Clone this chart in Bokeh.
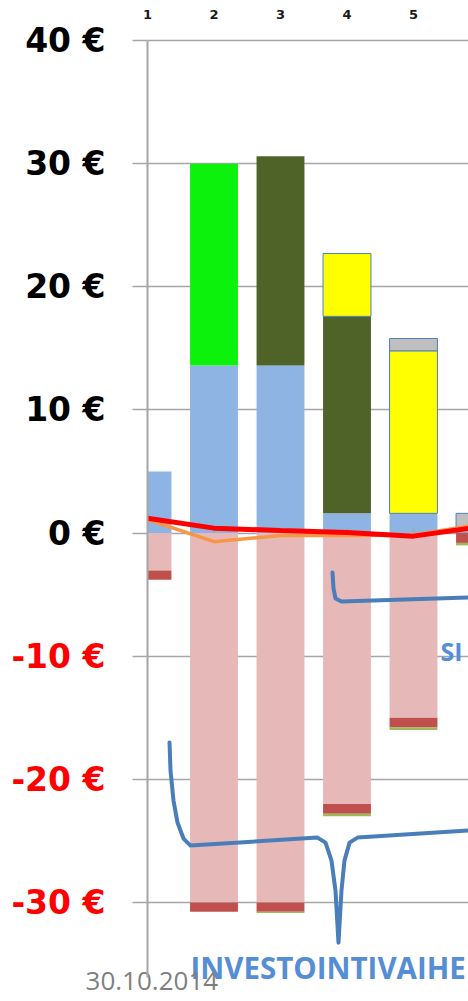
from bokeh.plotting import figure
from bokeh.models import Range1d, FixedTicker, Label, LabelSet, ColumnDataSource, Grid
from bokeh.core.properties import value
from bokeh.embed import file_html
from bokeh.resources import INLINE

# ---- data ----
categories = [1, 2, 3, 4, 5, 6]
top_tick_values = [1, 2, 3, 4, 5]
top_tick_labels = ["1", "2", "3", "4", "5"]

base_blue = [5.0, 13.6, 13.6, 1.6, 1.6, 0.0]
green = [0.0, 16.4, 0.0, 0.0, 0.0, 0.0]
olive = [0.0, 0.0, 17.0, 16.0, 0.0, 0.0]
yellow = [0.0, 0.0, 0.0, 5.1, 13.2, 0.0]
grey = [0.0, 0.0, 0.0, 0.0, 1.0, 1.6]

pink = [-3.05, -30.0, -30.0, -22.0, -15.0, 0.0]
darkred = [-0.75, -0.75, -0.75, -0.8, -0.8, -0.8]
lightgreen = [0.0, 0.0, -0.1, -0.2, -0.2, -0.2]

red_line = [1.2, 0.4, 0.2, 0.05, -0.25, 0.5]
orange_line = [1.1, -0.7, -0.2, -0.2, -0.15, 0.7]

y_ticks = [-30, -20, -10, 0, 10, 20, 30, 40]
y_tick_labels = ["-30 €", "-20 €", "-10 €", "0 €", "10 €", "20 €", "30 €", "40 €"]

# annotation brace paths (data units)
brace1_x = [3.782, 3.797, 3.827, 3.917, 5.827]
brace1_y = [-3.20, -4.50, -5.31, -5.56, -5.24]
brace2_x = [1.331, 1.346, 1.391, 1.451, 1.541, 1.647, 3.556, 3.677, 3.767, 3.827, 3.872,
            3.917, 3.962, 4.038, 4.158, 5.827]
brace2_y = [-17.01, -19.28, -21.72, -23.51, -24.81, -25.38, -24.73, -25.14, -26.60, -29.04,
            -33.26, -29.04, -26.60, -25.14, -24.73, -24.16]

# ---- layout (frame = whole canvas) ----
W, H = 468, 1001
axis_px = 147.0          # pixel position of category 1 / y axis
top_px = 40.0            # pixel position of the 40 € line
px_x = 66.5              # pixels per category
px_y = 12.314            # pixels per euro
x_start = 1 - axis_px / px_x
x_end = 1 + (W - axis_px) / px_x
y_end = 40 + top_px / px_y
y_start = 40 - (H - top_px) / px_y

p = figure(width=W, height=H, output_backend="svg", toolbar_location=None,
           x_range=Range1d(x_start, x_end), y_range=Range1d(y_start, y_end),
           min_border=0, x_axis_location=None, y_axis_location=None)
p.outline_line_color = None
p.background_fill_color = "white"
p.border_fill_color = "white"
p.xgrid.visible = False
p.ygrid.visible = False

GRID = "#A6A6A6"
tick_len = 15 / px_x
label_gap = 42 / px_x
axis_bottom = y_start + 24 / px_y

# horizontal gridlines behind the bars
p.add_layout(Grid(dimension=1, ticker=FixedTicker(ticks=y_ticks), cross_bounds=(1, x_end),
                  grid_line_color=GRID, grid_line_width=1.5))

# bars
def present(vals):
    return [1 if v != 0 else 0 for v in vals]

src = ColumnDataSource(dict(x=categories, blue=base_blue, green=green, olive=olive,
                            yellow=yellow, grey=grey, pink=pink, darkred=darkred,
                            lightgreen=lightgreen, ya=present(yellow), ga=present(grey)))
BW = 0.72
pos_cols = ["#8DB4E2", "#0CF20C", "#4F6228", "#FFFF00", "#BFBFBF"]
p.vbar_stack(["blue", "green", "olive", "yellow", "grey"], x="x", width=BW, source=src,
             fill_color=pos_cols, line_color="#4F81BD", line_width=1,
             line_alpha=[0, 0, 0, "ya", "ga"])
neg_cols = ["#E6B9B8", "#C0504D", "#9BBB59"]
p.vbar_stack(["pink", "darkred", "lightgreen"], x="x", width=BW, source=src,
             fill_color=neg_cols, line_color=None)

# white area left of the y axis (hides the left half of the first bar)
p.quad(left=[x_start], right=[1], bottom=[y_start], top=[y_end],
       fill_color="white", line_color=None)

# small ticks on the zero line
p.segment(x0=categories[1:], y0=[0] * 5, x1=categories[1:], y1=[5 / px_y] * 5,
          line_color=GRID, line_width=1.5)

# lines
p.line(categories, orange_line, line_color="#F79646", line_width=3.5)
p.line(categories, red_line, line_color="#FF0000", line_width=5)

# braces
BRACE = "#4A7EBB"
p.line(brace1_x, brace1_y, line_color=BRACE, line_width=4, line_cap="round", line_join="round")
p.line(brace2_x, brace2_y, line_color=BRACE, line_width=4, line_cap="round", line_join="round")

# y axis line and tick marks
p.add_layout(Grid(dimension=0, ticker=FixedTicker(ticks=[1]), cross_bounds=(axis_bottom, 40),
                  grid_line_color=GRID, grid_line_width=2, level="overlay"))
p.add_layout(Grid(dimension=1, ticker=FixedTicker(ticks=y_ticks), cross_bounds=(1 - tick_len, 1),
                  grid_line_color=GRID, grid_line_width=1.5, level="overlay"))

# y tick labels (black positive, red negative)
ysrc = ColumnDataSource(dict(y=y_ticks, text=y_tick_labels,
                             x=[1 - label_gap] * len(y_ticks),
                             color=["#FF0000" if t < 0 else "#000000" for t in y_ticks]))
p.add_layout(LabelSet(x="x", y="y", text="text", source=ysrc, text_color="color",
                      text_align="right", text_baseline="middle",
                      text_font=value("DejaVu Sans"), text_font_style="bold",
                      text_font_size="33px"))

# category numbers on top
xsrc = ColumnDataSource(dict(x=top_tick_values, text=top_tick_labels,
                             y=[40 + 26 / px_y] * len(top_tick_values)))
p.add_layout(LabelSet(x="x", y="y", text="text", source=xsrc, text_color="#1A1A1A",
                      text_align="center", text_baseline="middle",
                      text_font=value("DejaVu Sans"), text_font_style="bold",
                      text_font_size="13px"))

# annotation texts
p.add_layout(Label(x=1.647, y=-35.28, text="INVESTOINTIVAIHE", text_align="left",
                   text_baseline="alphabetic", text_font="Open Sans", text_font_style="bold",
                   text_font_size="29.5px", text_color="#558ED5"))
p.add_layout(Label(x=5.406, y=-9.54, text="SI", text_align="left",
                   text_baseline="alphabetic", text_font="Open Sans", text_font_style="bold",
                   text_font_size="25px", text_color="#558ED5"))
p.add_layout(Label(x=0.068, y=-36.40, text="30.10.2014", text_align="left",
                   text_baseline="alphabetic", text_font="Open Sans",
                   text_font_size="26px", text_color="#7F7F7F"))

open("out.html", "w").write(file_html(p, INLINE))
